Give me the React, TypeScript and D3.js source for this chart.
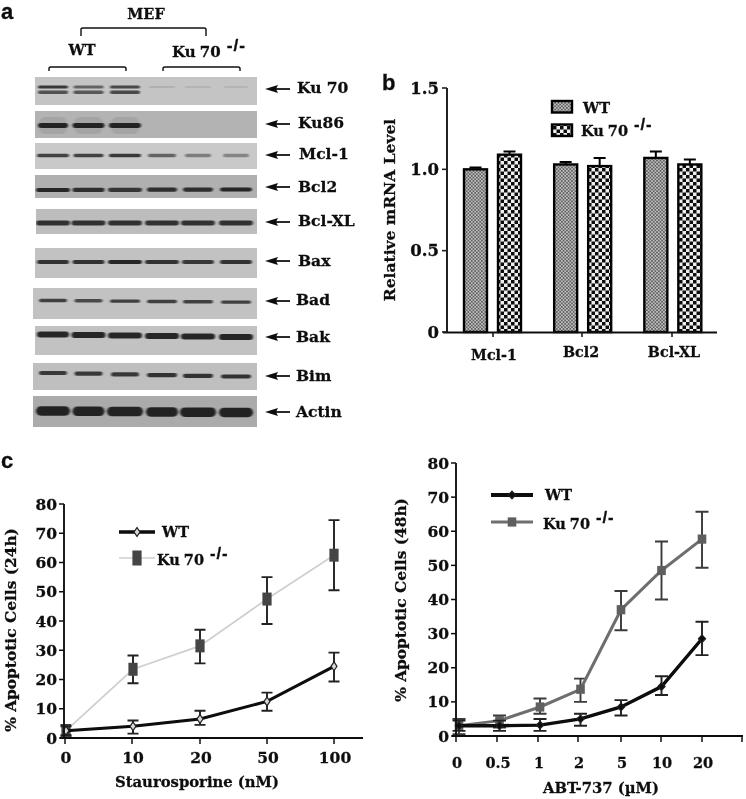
import React from "react";
import * as d3 from "d3";

// ---------- data ----------
const blotNames = ["Ku 70", "Ku86", "Mcl-1", "Bcl2", "Bcl-XL", "Bax", "Bad", "Bak", "Bim", "Actin"];
const blotDisplayBackground = [0.77, 0.70, 0.79, 0.69, 0.74, 0.76, 0.76, 0.76, 0.75, 0.67];
const ku70Upper = [0.85, 0.6, 0.75, 0.12, 0.1, 0.1];
const ku70Lower = [0.7, 0.65, 0.75, 0, 0, 0];
const ku86Band = [1, 1, 1, 0, 0, 0];
const mcl1Band = [0.8, 0.8, 0.85, 0.6, 0.45, 0.4];
const bcl2Band = [0.95, 0.9, 0.85, 0.9, 0.9, 0.95];
const bclxlBand = [0.9, 0.9, 0.9, 0.9, 0.9, 0.9];
const baxBand = [0.9, 0.9, 0.95, 0.9, 0.85, 0.9];
const badBand = [0.8, 0.75, 0.8, 0.8, 0.8, 0.8];
const bakBand = [0.95, 0.95, 0.95, 0.95, 0.95, 0.95];
const bimBand = [0.85, 0.85, 0.85, 0.9, 0.9, 0.9];
const actinBand = [1, 1, 1, 1, 1, 1];
const blotBands = [ku70Upper, ku86Band, mcl1Band, bcl2Band, bclxlBand, baxBand, badBand, bakBand, bimBand, actinBand];

const mrnaGenes = ["Mcl-1", "Bcl2", "Bcl-XL"];
const mrnaWT = [1.0, 1.03, 1.07];
const mrnaWTErr = [0.012, 0.015, 0.04];
const mrnaKO = [1.09, 1.02, 1.03];
const mrnaKOErr = [0.02, 0.05, 0.03];
const mrnaTicks = [0, 0.5, 1.0, 1.5];
const mrnaTickLabels = ["0", "0.5", "1.0", "1.5"];

const stauroDoses = ["0", "10", "20", "50", "100"];
const stauroWT = [2.5, 4, 6.5, 12.5, 24.5];
const stauroWTLow = [1, 1.5, 4.5, 9.3, 19.3];
const stauroWTHigh = [4, 6, 9.3, 15.5, 29.2];
const stauroKO = [2.5, 23.5, 31.5, 47.5, 62.5];
const stauroKOLow = [0.5, 18.7, 25.5, 39, 50.5];
const stauroKOHigh = [4.5, 28.2, 37, 55, 74.5];

const abtDoses = ["0", "0.5", "1", "2", "5", "10", "20"];
const abtWT = [3, 3, 3.2, 5, 8.5, 14.5, 28.5];
const abtWTLow = [1.5, 1.5, 1.5, 3, 6, 12, 23.7];
const abtWTHigh = [4.5, 4.5, 5, 6.5, 10.5, 17.5, 33.5];
const abtKO = [3, 4.5, 8.5, 13.7, 37, 48.5, 57.7];
const abtKOLow = [0.5, 2.5, 6.5, 10, 31, 40, 49.3];
const abtKOHigh = [5, 6, 11, 16.8, 42.5, 57, 65.7];
const pctTicks = [0, 10, 20, 30, 40, 50, 60, 70, 80];

// ---------- layout ----------
const serif = "'DejaVu Serif', serif";
const blotBoxes = [
  [35, 77, 222, 28], [35, 111, 222, 27], [35, 143, 222, 26], [35, 175, 222, 23], [36, 209, 221, 25],
  [35, 248, 222, 30], [33, 288, 224, 31], [35, 326, 222, 29], [33, 363, 224, 27], [33, 396, 224, 31],
];
const bandY = [87, 125.5, 155.5, 190, 223, 262, 300.5, 334.5, 373, 411];
const bandH = [3, 4.8, 3.4, 4.2, 4.8, 4.2, 3.4, 6, 4.2, 9.5];
const laneX = [53, 88.5, 125, 162, 198, 236];
const laneHalf = [[15, 15, 15, 13, 13, 12], [15, 16, 16, 0, 0, 0], [16, 15, 16, 14, 13, 13], [17, 16, 17, 15, 15, 16], [17, 17, 17, 17, 17, 17], [16, 16, 17, 17, 16, 16], [14, 14, 15, 15, 15, 15], [16, 17, 17, 17, 17, 17], [14, 14, 14, 15, 15, 15], [17, 16, 18, 16, 18, 17]];
const bandSlope = [0, 0, 0, -0.5, 0, 0, 1.6, 2.5, 3.5, 1.5];
const labelY = [93, 128, 159, 192, 226, 266, 305, 342, 381, 417];
const labelX = [297, 298, 299, 298, 298, 298, 296, 296, 296, 296];
const arrowY = [89, 124, 155, 187, 222, 261, 301, 337, 376, 412];

const W = 746, H = 799;

function Arrow({ y }: { y: number }) {
  const line = d3.line()([[290, y], [270, y]]) as string;
  return (
    <g>
      <path d={line} stroke="#111" strokeWidth={1.8} />
      <path d={`M265,${y}L278,${y - 4}L276,${y}L278,${y + 4}Z`} fill="#111" />
    </g>
  );
}

function KoLabel({ x, y, size }: { x: number; y: number; size: number }) {
  return (
    <g fontWeight={700} fill="#111">
      <text x={x} y={y} fontSize={size} fontFamily={serif}>Ku</text>
      <text x={x + size * 1.85} y={y} fontSize={size} fontFamily={serif}>70</text>
      <text x={x + size * 3.65} y={y - size * 0.38} fontSize={size * 1.15} fontFamily="'Liberation Sans', sans-serif" letterSpacing={1}>-/-</text>
    </g>
  );
}

function Bracket({ x0, x1, y, h }: { x0: number; x1: number; y: number; h: number }) {
  return <path d={`M${x0},${y + h}V${y + 1.5}Q${x0},${y} ${x0 + 2},${y}H${x1 - 2}Q${x1},${y} ${x1},${y + 1.5}V${y + h}`} fill="none" stroke="#111" strokeWidth={1.4} />;
}

function Blots() {
  const grey = d3.scaleLinear().domain([0, 1]).range([255, 0]);
  return (
    <g>
      {blotNames.map((name, i) => {
        const [x, y, w, h] = blotBoxes[i];
        const bg = Math.round(grey(1 - blotDisplayBackground[i]));
        const shade = d3.scaleLinear().domain([0, 1]).range([bg, 32]);
        return (
          <g key={name}>
            <rect x={x} y={y} width={w} height={h} fill={`rgb(${bg},${bg},${bg})`} />
            <clipPath id={`clipBlot${i}`}><rect x={x} y={y} width={w} height={h} /></clipPath>
            <g clipPath={`url(#clipBlot${i})`}>
              <g filter="url(#bandBlur)">
                {i === 1 && ku86Band.map((v, j) =>
                  v > 0 ? <rect key={j} x={laneX[j] - 14} y={117} width={28} height={17} rx={6} fill="rgb(130,130,130)" opacity={0.3} /> : null
                )}
                {blotBands[i].map((v, j) => {
                  if (v === 0) return null;
                  const half = laneHalf[i][j] || 15;
                  const off = (bandSlope[i] * j) / 5;
                  const c = Math.round(shade(v));
                  const bh = bandH[i] * (v < 0.2 ? 0.6 : 1);
                  return <rect key={j} x={laneX[j] - half} y={bandY[i] + off - bh / 2} width={half * 2} height={bh} rx={bh / 2} fill={`rgb(${c},${c},${c})`} />;
                })}
                {i === 0 && ku70Lower.map((v, j) => {
                  if (v === 0) return null;
                  const c = Math.round(shade(v));
                  return <rect key={j} x={laneX[j] - laneHalf[0][j]} y={90.5} width={laneHalf[0][j] * 2} height={3.4} rx={1.7} fill={`rgb(${c},${c},${c})`} />;
                })}
              </g>
            </g>
            <Arrow y={arrowY[i]} />
            <text x={labelX[i]} y={labelY[i]} fontFamily={serif} fontWeight={700} fontSize={15.5} fill="#111">{name}</text>
          </g>
        );
      })}
      <text x={146} y={19} textAnchor="middle" fontFamily={serif} fontWeight={700} fontSize={14.5} fill="#111">MEF</text>
      <Bracket x0={81} x1={206} y={28} h={8} />
      <text x={82} y={55} textAnchor="middle" fontFamily={serif} fontWeight={700} fontSize={14.5} fill="#111">WT</text>
      <Bracket x0={49} x1={126} y={67} h={4} />
      <KoLabel x={172} y={57} size={15} />
      <Bracket x0={163} x1={240} y={67} h={4} />
    </g>
  );
}

function BarPanel() {
  const y = d3.scaleLinear().domain([0, 1.5]).range([332, 88]);
  const x0 = d3.scaleBand<string>().domain(mrnaGenes).range([464, 734.5]);
  const bw = 23;
  const series = [
    { vals: mrnaWT, errs: mrnaWTErr, fill: "url(#patWT)", off: 0 },
    { vals: mrnaKO, errs: mrnaKOErr, fill: "url(#patKO)", off: 34 },
  ];
  return (
    <g>
      {series.map((s, si) =>
        mrnaGenes.map((g, i) => {
          const bx = (x0(g) as number) + s.off;
          const top = y(s.vals[i]);
          const cap = y(s.vals[i] + s.errs[i]);
          return (
            <g key={`${si}-${g}`}>
              <path d={`M${bx + bw / 2},${top}V${cap}M${bx + bw / 2 - 6},${cap}H${bx + bw / 2 + 6}`} stroke="#000" strokeWidth={2} fill="none" />
              <rect x={bx} y={top} width={bw} height={332 - top} fill={s.fill} stroke="#000" strokeWidth={2.4} />
            </g>
          );
        })
      )}
      <path d="M447,88V332" stroke="#222" strokeWidth={2} fill="none" />
      <path d="M443,332.5H717" stroke="#111" strokeWidth={2} fill="none" />
      {mrnaTicks.map((t, i) => (
        <g key={t}>
          <path d={`M442,${y(t)}H447`} stroke="#222" strokeWidth={1.6} />
          <text x={439} y={y(t) + 5.5} textAnchor="end" fontFamily={serif} fontWeight={700} fontSize={16.5} fill="#111">{mrnaTickLabels[i]}</text>
        </g>
      ))}
      {[493, 582, 672].map((tx) => <path key={tx} d={`M${tx},332V337`} stroke="#111" strokeWidth={1.5} />)}
      {mrnaGenes.map((g, i) => (
        <text key={g} x={[494, 581, 674][i]} y={[360, 357, 357][i]} textAnchor="middle" fontFamily={serif} fontWeight={700} fontSize={14.3} fill="#111">{g}</text>
      ))}
      <text transform="translate(395,210) rotate(-90)" textAnchor="middle" fontFamily={serif} fontWeight={700} fontSize={15.5} fill="#111">Relative mRNA Level</text>
      <rect x={552} y={101} width={20} height={11.5} fill="url(#patWT)" stroke="#000" strokeWidth={2.4} />
      <rect x={552} y={124.5} width={20} height={11.5} fill="url(#patKO)" stroke="#000" strokeWidth={2.4} />
      <text x={583} y={113} fontFamily={serif} fontWeight={700} fontSize={14.5} fill="#111">WT</text>
      <KoLabel x={581} y={136} size={14.5} />
    </g>
  );
}

type Series = { name: string; vals: number[]; low: number[]; high: number[]; stroke: string; sw: number; marker: string; ms: number; msy: number; capW: number; errColor: string; fill: string };

function Marker({ kind, x, y, size, sizeY, fill, stroke }: { kind: string; x: number; y: number; size: number; sizeY: number; fill: string; stroke: string }) {
  if (kind === "square") return <rect x={x - size} y={y - sizeY} width={size * 2} height={sizeY * 2} fill={fill} />;
  const d = `M${x},${y - sizeY}L${x + size},${y}L${x},${y + sizeY}L${x - size},${y}Z`;
  return <path d={d} fill={fill} stroke={stroke} strokeWidth={1.2} />;
}

function LinePanel({ cats, series, x, y, xAxisEnd, yAxisX, y0, tickXs, tickLabelDy, xTitle, yTitle, yTitleX, labelFs, legend }: any) {
  const line = d3.line<number>().x((_, i) => x(i)).y((v) => y(v));
  const ku: Series = series[0];
  const wt: Series = series[1];
  return (
    <g>
      {series.map((s: Series, si: number) => (
        <g key={si}>
          {s.vals.map((_, i) => (
            <path key={i} d={`M${x(i)},${y(s.low[i])}V${y(s.high[i])}M${x(i) - s.capW},${y(s.low[i])}h${s.capW * 2}M${x(i) - s.capW},${y(s.high[i])}h${s.capW * 2}`} stroke={s.errColor} strokeWidth={1.9} fill="none" />
          ))}
          <path d={line(s.vals) as string} fill="none" stroke={s.stroke} strokeWidth={s.sw} />
          {s.vals.map((v, i) => <Marker key={i} kind={s.marker} x={x(i)} y={y(v)} size={s.ms} sizeY={s.msy} fill={s.fill} stroke="#222" />)}
        </g>
      ))}
      <path d={`M${yAxisX},${y(80)}V${y0}`} stroke="#111" strokeWidth={1.9} fill="none" />
      <path d={`M${yAxisX - 4},${y0}H${xAxisEnd}`} stroke="#111" strokeWidth={1.9} fill="none" />
      {pctTicks.map((t) => (
        <g key={t}>
          <path d={`M${yAxisX - 5},${y(t)}H${yAxisX}`} stroke="#111" strokeWidth={1.5} />
          <text x={yAxisX - 7} y={y(t) + 5.5} textAnchor="end" fontFamily={serif} fontWeight={700} fontSize={15.5} fill="#111">{t}</text>
        </g>
      ))}
      {tickXs.map((tx: number, i: number) => (
        <g key={i}>
          <path d={`M${tx},${y0}V${y0 + 6}`} stroke="#111" strokeWidth={1.5} />
          {cats[i] !== undefined && (
            <text x={tx + 1} y={y0 + tickLabelDy} textAnchor="middle" fontFamily={serif} fontWeight={700} fontSize={labelFs} fill="#111">{cats[i]}</text>
          )}
        </g>
      ))}
      <text x={xTitle.x} y={xTitle.y} textAnchor="middle" fontFamily={serif} fontWeight={700} fontSize={14.8} fill="#111">{xTitle.text}</text>
      <text transform={`translate(${yTitleX},${yTitle.y}) rotate(-90)`} textAnchor="middle" fontFamily={serif} fontWeight={700} fontSize={15.4} fill="#111">{yTitle.text}</text>
      <g>
        <path d={`M${legend.x},${legend.y[0]}h${legend.len}`} stroke={wt.stroke} strokeWidth={wt.sw + 0.6} />
        <Marker kind={wt.marker} x={legend.x + legend.len / 2} y={legend.y[0]} size={wt.ms} sizeY={wt.msy} fill={wt.fill} stroke="#222" />
        <path d={`M${legend.x},${legend.y[1]}h${legend.len}`} stroke={ku.stroke} strokeWidth={ku.sw} />
        <Marker kind={ku.marker} x={legend.x + legend.len / 2} y={legend.y[1]} size={ku.ms} sizeY={ku.msy + (legend.kuExtra || 0)} fill={ku.fill} stroke="#222" />
        <text x={legend.wtX} y={legend.y[0] + 5} fontFamily={serif} fontWeight={700} fontSize={14.5} fill="#111">WT</text>
        <KoLabel x={legend.kuX} y={legend.y[1] + 6.5} size={14.5} />
      </g>
    </g>
  );
}

export default function App() {
  const yL = d3.scaleLinear().domain([0, 80]).range([738, 504]);
  const xLs = d3.scalePoint<number>().domain(d3.range(stauroDoses.length)).range([66, 334]);
  const yR = d3.scaleLinear().domain([0, 80]).range([736, 463]);
  const xRs = d3.scalePoint<number>().domain(d3.range(abtDoses.length)).range([459, 702]);
  const left: Series[] = [
    { name: "Ku70", vals: stauroKO, low: stauroKOLow, high: stauroKOHigh, stroke: "#cfcfcf", sw: 1.7, marker: "square", ms: 4.6, msy: 6.5, capW: 5.5, errColor: "#222", fill: "#444" },
    { name: "WT", vals: stauroWT, low: stauroWTLow, high: stauroWTHigh, stroke: "#0a0a0a", sw: 3, marker: "diamondOpen", ms: 3, msy: 4.4, capW: 5.5, errColor: "#222", fill: "#d8d8d8" },
  ];
  const right: Series[] = [
    { name: "Ku70", vals: abtKO, low: abtKOLow, high: abtKOHigh, stroke: "#6e6e6e", sw: 3, marker: "square", ms: 4.3, msy: 4.6, capW: 6.5, errColor: "#3a3a3a", fill: "#5e5e5e" },
    { name: "WT", vals: abtWT, low: abtWTLow, high: abtWTHigh, stroke: "#080808", sw: 3.4, marker: "diamond", ms: 3.6, msy: 3.8, capW: 6.5, errColor: "#222", fill: "#080808" },
  ];
  return (
    <svg width={W} height={H} viewBox={`0 0 ${W} ${H}`} style={{ position: "absolute", left: 0, top: 0, background: "#fff" }}>
      <style>{`text{stroke:#111;stroke-width:.3px}`}</style>
      <defs>
        <filter id="bandBlur" x="-10%" y="-10%" width="120%" height="120%"><feGaussianBlur stdDeviation="1.2 0.55" /></filter>
        <filter id="soft" x="0" y="0" width="100%" height="100%" filterUnits="userSpaceOnUse" primitiveUnits="userSpaceOnUse"><feGaussianBlur stdDeviation="0.45" /></filter>
        <pattern id="patWT" width="3.4" height="3.4" patternUnits="userSpaceOnUse">
          <rect width="3.4" height="3.4" fill="#c0c0c0" />
          <rect width="1.7" height="1.7" fill="#606060" />
          <rect x="1.7" y="1.7" width="1.7" height="1.7" fill="#606060" />
        </pattern>
        <pattern id="patKO" width="7" height="7" patternUnits="userSpaceOnUse">
          <rect width="7" height="7" fill="#eee" />
          <rect width="3.5" height="3.5" fill="#111" />
          <rect x="3.5" y="3.5" width="3.5" height="3.5" fill="#111" />
        </pattern>
      </defs>
      <g filter="url(#soft)">
        <rect width={W} height={H} fill="#fff" />
        <text x={1} y={19} fontFamily="'Liberation Sans', sans-serif" fontWeight={700} fontSize={22} fill="#111">a</text>
        <text x={382} y={90} fontFamily="'Liberation Sans', sans-serif" fontWeight={700} fontSize={22} fill="#111">b</text>
        <text x={1} y={468} fontFamily="'Liberation Sans', sans-serif" fontWeight={700} fontSize={22} fill="#111">c</text>
        <Blots />
        <BarPanel />
        <LinePanel cats={stauroDoses} series={left} x={(i: number) => xLs(i)} y={yL} xAxisEnd={363} yAxisX={64} y0={738} tickXs={[65, 132, 200, 267, 334]} tickLabelDy={25}
          xTitle={{ x: 197, y: 787, text: "Staurosporine (nM)" }} yTitle={{ y: 630, text: "% Apoptotic Cells (24h)" }} yTitleX={16} labelFs={15.5}
          legend={{ x: 119, y: [532, 558], len: 36, wtX: 162, kuX: 157, kuExtra: 1 }} />
        <LinePanel cats={abtDoses} series={right} x={(i: number) => xRs(i)} y={yR} xAxisEnd={743} yAxisX={456} y0={736} tickXs={[456, 497, 538, 578, 621, 661, 702, 742]} tickLabelDy={32}
          xTitle={{ x: 601, y: 793, text: "ABT-737 (µM)" }} yTitle={{ y: 600, text: "% Apoptotic Cells (48h)" }} yTitleX={406} labelFs={14.5}
          legend={{ x: 491, y: [495, 522], len: 42, wtX: 545, kuX: 543 }} />
      </g>
    </svg>
  );
}
